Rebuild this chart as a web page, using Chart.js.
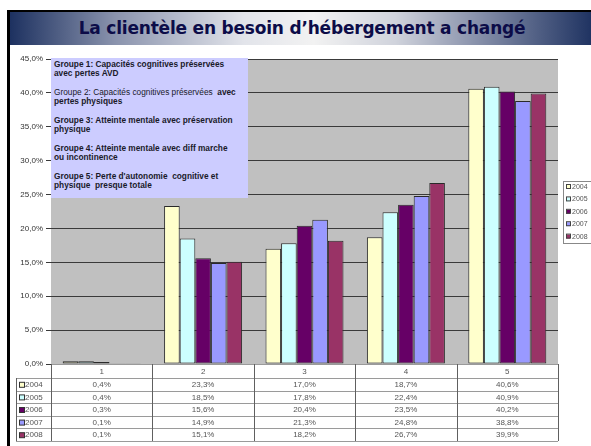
<!DOCTYPE html>
<html>
<head>
<meta charset="utf-8">
<script src="https://cdn.jsdelivr.net/npm/chart.js@4/dist/chart.umd.min.js"></script>
<style>
  html, body { margin: 0; padding: 0; background: #fff; }
  #wrap { position: relative; width: 591px; height: 446px; overflow: hidden; }
  #titleBar {
    position: absolute; left: 7px; top: 10px; width: 584px; height: 33px;
    border-top: 2px solid #000; border-left: 3px solid #000;
    background: linear-gradient(90deg, #1d3160 0%, #8a93ad 18%, #e2e4ea 40%, #f2f2f2 52%, #d0d3dc 66%, #7d87a3 82%, #1d3160 100%);
    font: bold 17px "DejaVu Sans", sans-serif; color: #0c0c48;
    text-align: center; line-height: 33px; letter-spacing: -0.2px;
  }
  #leftLine { position: absolute; left: 7px; top: 10px; width: 3px; height: 436px; background: #000; }
  #chartBox { position: absolute; left: 0; top: 0; width: 591px; height: 446px; }
  #note {
    position: absolute; left: 51px; top: 58px; width: 197px; height: 140px;
    background: #ccccff; color: #1a1a2a;
    font: bold 8.3px "Liberation Sans", Arial, sans-serif; line-height: 9px;
    padding: 2px 0 0 3px; box-sizing: border-box; white-space: nowrap; overflow: hidden;
  }
  #note p { margin: 0 0 10px 0; }
</style>
</head>
<body>
<div id="wrap">
  <div id="chartBox"><canvas id="chart" width="591" height="446"></canvas></div>
  <div id="leftLine"></div>
  <div id="titleBar">La clientèle en besoin d’hébergement a changé</div>
  <div id="note">
    <p>Groupe 1: Capacités cognitives préservées<br>avec pertes AVD</p>
    <p><span style="font-weight:normal">Groupe 2: Capacités cognitives préservées</span>&nbsp; avec<br>pertes physiques</p>
    <p>Groupe 3: Atteinte mentale avec préservation<br>physique</p>
    <p>Groupe 4: Atteinte mentale avec diff marche<br>ou incontinence</p>
    <p>Groupe 5: Perte d'autonomie&nbsp; cognitive et<br>physique&nbsp; presque totale</p>
  </div>
</div>
<script>
const categories = ['1', '2', '3', '4', '5'];
const years = ['2004', '2005', '2006', '2007', '2008'];
const values2004 = [0.4, 23.3, 17.0, 18.7, 40.6];
const values2005 = [0.4, 18.5, 17.8, 22.4, 40.9];
const values2006 = [0.3, 15.6, 20.4, 23.5, 40.2];
const values2007 = [0.1, 14.9, 21.3, 24.8, 38.8];
const values2008 = [0.1, 15.1, 18.2, 26.7, 39.9];
const yTicks = [0, 5, 10, 15, 20, 25, 30, 35, 40, 45];
const colors = ['#ffffcc', '#ccffff', '#660066', '#9999ff', '#993366'];

const series = [values2004, values2005, values2006, values2007, values2008];
const fmt = v => v.toFixed(1).replace('.', ',') + '%';

// fond gris + tableau de données + légende
const excelLook = {
  id: 'excelLook',
  beforeDraw(chart) {
    const { ctx, chartArea: a } = chart;
    ctx.save();
    ctx.fillStyle = '#c0c0c0';
    ctx.fillRect(a.left, a.top, a.right - a.left, a.bottom - a.top);
    ctx.restore();
  },
  afterDraw(chart) {
    const { ctx, chartArea: a } = chart;
    const x = chart.scales.x;
    const step = (a.right - a.left) / categories.length;
    const top = a.bottom;
    const headH = 14, rowH = 12.6;
    const labelLeft = 16;
    const bottom = top + headH + rowH * years.length;

    ctx.save();
    ctx.fillStyle = '#fff';
    ctx.fillRect(a.left, top + 1, a.right - a.left, headH);
    ctx.fillRect(labelLeft, top + headH, a.right - labelLeft, bottom - top - headH);

    // lignes horizontales
    ctx.strokeStyle = '#9a9a9a';
    ctx.lineWidth = 1;
    for (let r = 0; r <= years.length; r++) {
      const yy = Math.round(top + headH + r * rowH) + 0.5;
      ctx.beginPath(); ctx.moveTo(labelLeft, yy); ctx.lineTo(a.right, yy); ctx.stroke();
    }
    ctx.beginPath(); ctx.moveTo(a.left, top + 0.5); ctx.lineTo(a.right, top + 0.5); ctx.stroke();
    // lignes verticales
    ctx.strokeStyle = '#606060';
    ctx.beginPath(); ctx.moveTo(labelLeft + 0.5, top + headH); ctx.lineTo(labelLeft + 0.5, bottom); ctx.stroke();
    for (let i = 0; i <= categories.length; i++) {
      const xx = Math.round(a.left + i * step) + 0.5;
      ctx.beginPath(); ctx.moveTo(xx, top); ctx.lineTo(xx, bottom); ctx.stroke();
    }

    ctx.font = '8px "Liberation Sans", Arial, sans-serif';
    ctx.fillStyle = '#555';
    ctx.textAlign = 'center';
    ctx.textBaseline = 'middle';
    categories.forEach((c, i) => {
      ctx.fillText(c, x.getPixelForValue(i), top + headH / 2 + 1);
    });
    years.forEach((yr, r) => {
      const cy = top + headH + r * rowH + rowH / 2 + 0.5;
      series[r].forEach((v, i) => {
        ctx.fillText(fmt(v), x.getPixelForValue(i), cy);
      });
      ctx.fillStyle = colors[r];
      ctx.strokeStyle = '#333';
      ctx.fillRect(labelLeft + 3, cy - 2.5, 5, 5);
      ctx.strokeRect(labelLeft + 3.5, cy - 2.5, 5, 5);
      ctx.fillStyle = '#555';
      ctx.textAlign = 'left';
      ctx.fillText(yr, labelLeft + 9, cy);
      ctx.textAlign = 'center';
    });

    // légende à droite
    const lx = 563, ly = 181, lh = 62;
    ctx.fillStyle = '#fff';
    ctx.fillRect(lx, ly, 40, lh);
    ctx.strokeStyle = '#888';
    ctx.strokeRect(lx + 0.5, ly + 0.5, 40, lh);
    ctx.font = '7px "Liberation Sans", Arial, sans-serif';
    ctx.textAlign = 'left';
    years.forEach((yr, r) => {
      const cy = ly + 6 + r * 12.4;
      ctx.fillStyle = colors[r];
      ctx.fillRect(lx + 3, cy - 2, 4, 4);
      ctx.strokeStyle = '#444';
      ctx.strokeRect(lx + 3.5, cy - 2.5, 4, 4);
      ctx.fillStyle = '#555';
      ctx.fillText(yr, lx + 9, cy);
    });
    ctx.restore();
  }
};

new Chart(document.getElementById('chart'), {
  type: 'bar',
  data: {
    labels: categories,
    datasets: years.map((yr, i) => ({
      label: yr,
      data: series[i],
      backgroundColor: colors[i],
      borderColor: '#2a2a2a',
      borderWidth: 1,
      borderSkipped: false,
      categoryPercentage: 5 / 6.5,
      barPercentage: 1
    }))
  },
  options: {
    responsive: false,
    animation: false,
    layout: { padding: { left: 0, right: 33, top: 59, bottom: 0 } },
    plugins: { legend: { display: false }, tooltip: { enabled: false } },
    scales: {
      x: {
        grid: { display: false },
        border: { display: false },
        ticks: { display: false },
        afterFit: s => { s.height = 82; }
      },
      y: {
        min: 0,
        max: 45,
        afterBuildTicks: s => { s.ticks = yTicks.map(v => ({ value: v })); },
        grid: { color: '#3a3a3a', lineWidth: 1, tickLength: 5, drawOnChartArea: true },
        border: { display: false },
        ticks: {
          font: { family: '"Liberation Sans", Arial, sans-serif', size: 8 },
          color: '#333',
          padding: 3,
          callback: v => fmt(v)
        },
        afterFit: s => { s.width = 51; }
      }
    }
  },
  plugins: [excelLook]
});
</script>
</body>
</html>
